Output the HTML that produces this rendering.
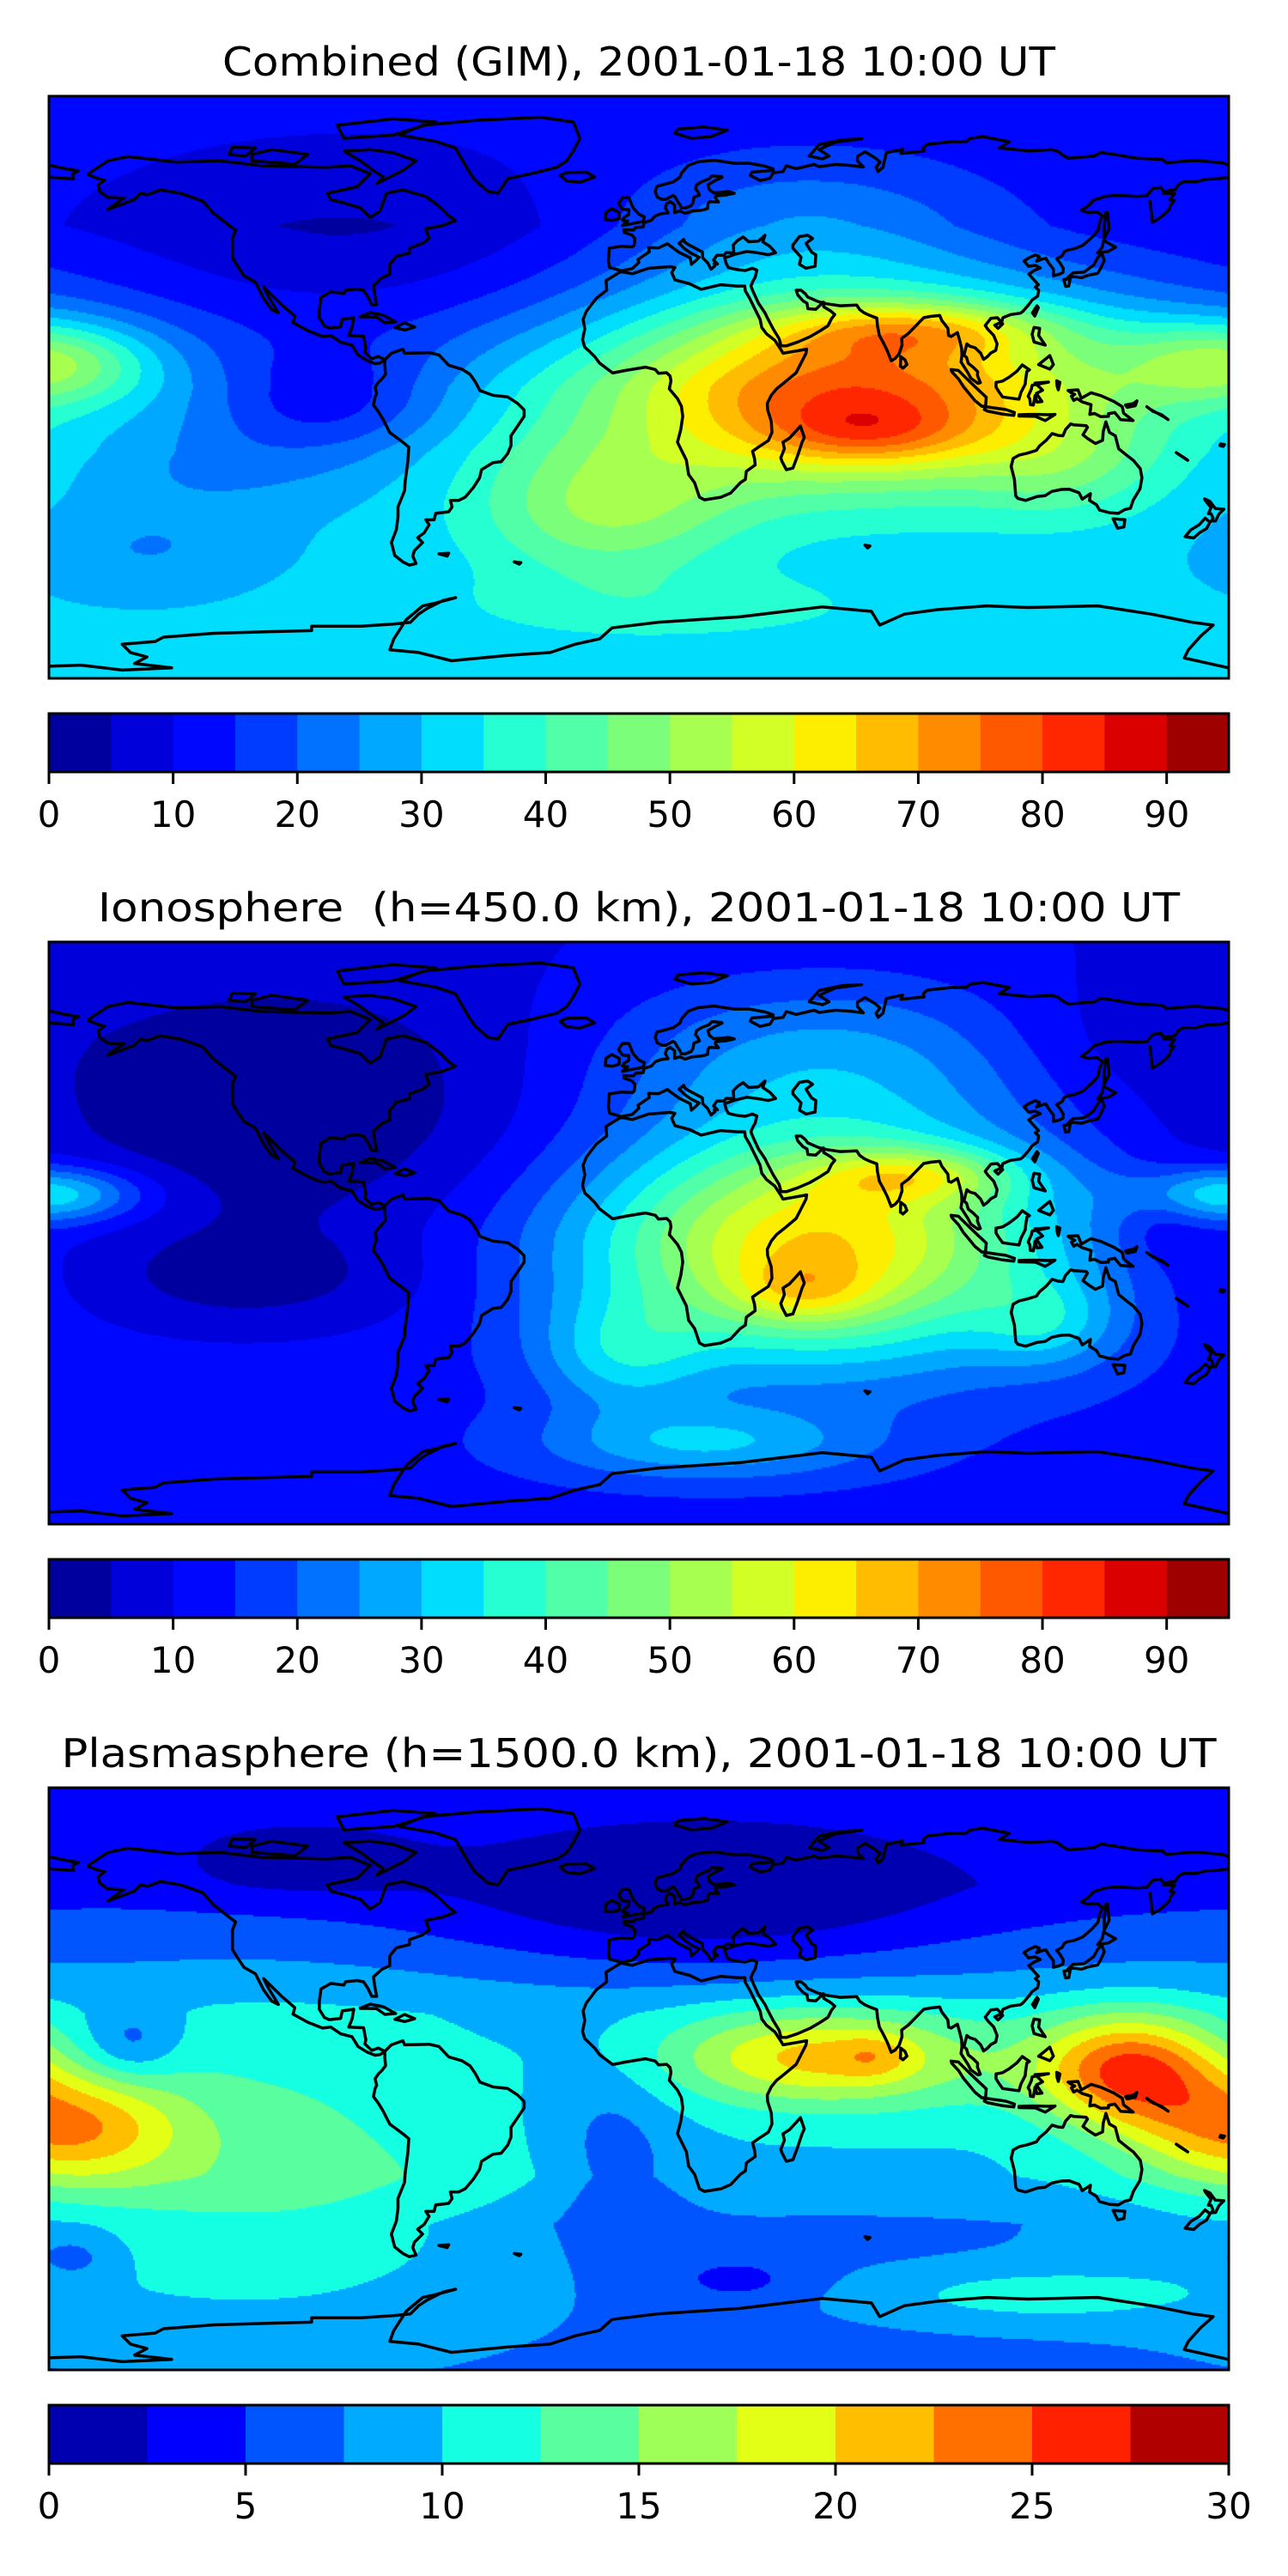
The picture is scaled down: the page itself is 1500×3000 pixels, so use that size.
<!DOCTYPE html>
<html><head><meta charset="utf-8">
<style>
html,body{margin:0;padding:0;background:#fff;}
#root{position:relative;width:1500px;height:3000px;overflow:hidden;background:#fff;}
canvas{position:absolute;left:57px;}
svg{position:absolute;left:0;top:0;}
</style></head>
<body>
<div id="root">
<canvas id="c0" width="1374" height="678" style="top:112px"></canvas>
<canvas id="c1" width="1374" height="678" style="top:1097px"></canvas>
<canvas id="c2" width="1374" height="678" style="top:2082px"></canvas>
<svg id="ov" width="1500" height="3000" xmlns="http://www.w3.org/2000/svg">
<text x="744" y="88" font-family="DejaVu Sans, Liberation Sans, sans-serif" font-size="46" text-anchor="middle" textLength="970" lengthAdjust="spacingAndGlyphs">Combined (GIM), 2001-01-18 10:00 UT</text>
<text x="744" y="1073" font-family="DejaVu Sans, Liberation Sans, sans-serif" font-size="46" text-anchor="middle" textLength="1260" lengthAdjust="spacingAndGlyphs" xml:space="preserve">Ionosphere  (h=450.0 km), 2001-01-18 10:00 UT</text>
<text x="744" y="2058" font-family="DejaVu Sans, Liberation Sans, sans-serif" font-size="46" text-anchor="middle" textLength="1345" lengthAdjust="spacingAndGlyphs">Plasmasphere (h=1500.0 km), 2001-01-18 10:00 UT</text>
</svg>
</div>
<script>
// ---- colorbar data ----
var levels1 = [0,5,10,15,20,25,30,35,40,45,50,55,60,65,70,75,80,85,90,95];
var ticks1 = [0,10,20,30,40,50,60,70,80,90];
var levels3 = [0,2.5,5,7.5,10,12.5,15,17.5,20,22.5,25,27.5,30];
var ticks3 = [0,5,10,15,20,25,30];

// ---- field blobs (lon, lat, amplitude, lon-width, lat-width) ----
var gimLon = [65,70,85,-90,-180,-10,10,-130,130,50,-150,-95];
var gimLat = [0,-14,18,35,8,-38,-68,-25,-25,50,-50,-5];
var gimAmp = [50,14,18,-9,24,18,6,-6,8,12,-6,-14];
var gimSx  = [55,22,30,55,22,28,50,30,20,40,25,25];
var gimSy  = [20,7,6,25,9,15,8,10,12,15,10,12];

var ionLon = [55,50,85,55,-110,-180,-5,20,160,125,140,-120];
var ionLat = [-3,-18,18,55,35,12,-38,-65,5,-28,60,-15];
var ionAmp = [52,12,20,15,-11,24,14,16,-6,12,-3,-8];
var ionSx  = [50,15,22,50,60,20,18,35,10,15,25,40];
var ionSy  = [25,7,6,18,30,6,12,8,10,10,15,12];

var plsLon = [-175,150,50,20,-105,-10,30,-155,120,-120,-172,75,-110,72,-5];
var plsLat = [-15,3,7,55,68,-10,-62,11,-67,-50,-55,5,-10,7,-32];
var plsAmp = [12,15,8,-5,-3,-1.5,-3,-4,4,4,-3,4,2.5,3,-2.5];
var plsSx  = [25,20,30,55,25,12,14,10,35,60,10,40,40,8,15];
var plsSy  = [12,12,10,16,8,15,5,8,6,22,6,12,25,5,18];

function baseGim(lat){ return lat>=0 ? 28-16*Math.min(lat,50)/50 : 28+3*Math.min(-lat,20)/20; }
function baseIon(lat){ return lat>=0 ? 13-3*Math.min(lat,60)/60 : 13; }
function basePls(lat){
  if(lat>20) return 9.5-5.5*Math.min((lat-20)/40,1);
  if(lat<-30) return 9.5-2.5*Math.min((-lat-30)/15,1);
  return 9.5;
}

// ---- layout ----
var MX=57, MW=1374, MH=678, MAPTOP=[112,1097,2082], CBTOP=[831,1816,2801], CBH=68;
function px(lon){ return MX+(lon+180)/360*MW; }
function py(lat,k){ return MAPTOP[k]+(90-lat)/180*MH; }

function seg(x,xs,ys){
  for(var i=0;i<xs.length-1;i++){ if(x<=xs[i+1]){ var t=(x-xs[i])/(xs[i+1]-xs[i]); return ys[i]+t*(ys[i+1]-ys[i]); } }
  return ys[ys.length-1];
}
function jet(t){
  var r=seg(t,[0,0.35,0.66,0.89,1],[0,0,1,1,0.5]);
  var g=seg(t,[0,0.125,0.375,0.64,0.91,1],[0,0,1,1,0,0]);
  var b=seg(t,[0,0.11,0.34,0.65,1],[0.5,1,1,0,0]);
  return [Math.round(r*255),Math.round(g*255),Math.round(b*255)];
}
function bandColors(levels){
  var n=levels.length-1, out=[];
  for(var i=0;i<n;i++) out.push(jet((i+0.5)/n));
  return out;
}

function evalField(lon,lat,base,L,A,M,SX,SY){
  var v=base(lat);
  for(var i=0;i<L.length;i++){
    var d=lon-L[i]; d=((d+540)%360)-180;
    var e=d/SX[i], f=(lat-A[i])/SY[i];
    v+=M[i]*Math.exp(-0.5*(e*e+f*f));
  }
  return v;
}

function drawField(id,levels,base,L,A,M,SX,SY){
  var cv=document.getElementById(id), ctx=cv.getContext('2d');
  var img=ctx.createImageData(MW,MH), d=img.data, cols=bandColors(levels), n=cols.length;
  var step=(levels[levels.length-1]-levels[0])/n, S=2;
  for(var y=0;y<MH;y+=S){
    var lat=90-(y+S/2)/MH*180;
    for(var x=0;x<MW;x+=S){
      var lon=-180+(x+S/2)/MW*360;
      var v=evalField(lon,lat,base,L,A,M,SX,SY);
      var k=Math.floor((v-levels[0])/step); if(k<0)k=0; if(k>n-1)k=n-1;
      var c=cols[k];
      for(var yy=y;yy<Math.min(y+S,MH);yy++) for(var xx=x;xx<Math.min(x+S,MW);xx++){
        var p=(yy*MW+xx)*4; d[p]=c[0];d[p+1]=c[1];d[p+2]=c[2];d[p+3]=255;
      }
    }
  }
  ctx.putImageData(img,0,0);
}
drawField('c0',levels1,baseGim,gimLon,gimLat,gimAmp,gimSx,gimSy);
drawField('c1',levels1,baseIon,ionLon,ionLat,ionAmp,ionSx,ionSy);
drawField('c2',levels3,basePls,plsLon,plsLat,plsAmp,plsSx,plsSy);

// ---- coastlines (lon,lat pairs) ----
var coasts = {
 'north-america':[-168,66,-162,70,-156,71.3,-141,69.6,-128,70,-115,68.5,-95,68,-88,68.5,-82,66,-86,62,-95,60,-94,58,-90,57,-85,55.5,-82,52.5,-79,54.5,-77,60,-72,61,-65,59,-61,56,-58,53,-56,51.5,-60,50,-65,49,-64,46,-66,44.5,-70,43,-70,41.5,-74,40.5,-76,38,-76,35,-78.5,33.8,-81,31.5,-80.5,28,-80,25.5,-81.5,25.5,-82.7,28,-84,30,-86,30.4,-89.5,30,-90,29,-94,29.5,-97,27.8,-97.5,24,-97.5,21.5,-96,19,-94.5,18.3,-91,18.7,-90.5,21,-87,21.5,-87.5,18.5,-88.5,16,-84,15.8,-83.3,12,-83.6,10.8,-81.5,8.8,-79.5,9.5,-77.5,8.5,-79,7.5,-80.5,7.3,-83,8.3,-85.7,10,-87.5,13,-91,13.9,-94,16,-96.5,15.7,-101,17.5,-105.5,20,-105,22,-109,25.5,-112.5,29,-114.5,31,-113,28,-110,23,-112,24,-114.5,27.5,-117,32.5,-120.5,34.5,-122.5,37.5,-124,40,-124,46,-123,48.5,-125,50,-130,54,-133,57.5,-137,59,-140,60,-146,61,-150,59.5,-152,60,-154,58,-158,56.5,-162,55,-158,58,-157,58.5,-162,58.7,-164.5,60.5,-165,62.5,-163,64,-165,64.5,-168,65.7],
 'baffin-island':[-80,63,-72,67,-68,70,-75,72.5,-82,73.5,-90,73,-85,70,-81,67,-78,65,-80,63],
 'victoria-island':[-118,70,-105,69,-101,72,-112,73.5,-118,72,-118,70],
 'ellesmere-island':[-90,77,-75,78,-62,82,-75,83,-92,81,-90,77],
 'banks-island':[-125,72,-120,71.5,-117,74,-124,74.2,-125,72],
 'greenland':[-73,78,-66,81,-50,82.5,-30,83.5,-20,82,-18,77,-20,73,-22,70,-25,68,-33,66,-40,64.5,-43,60,-46,60.5,-50,64,-52,67,-54,70.5,-56,74,-62,76,-73,78],
 'iceland':[-24,65.5,-22,66.4,-16,66.5,-13.5,65,-18,63.4,-22,63.8,-24,65.5],
 'cuba':[-85,21.8,-82,23.1,-78,22.3,-74.2,20.2,-77.5,19.9,-80,21.7,-85,21.8],
 'hispaniola':[-74.4,18.4,-71.5,19.9,-68.4,18.6,-71.4,17.7,-74.4,18.4],
 'south-america':[-77.5,8.5,-75.5,10.5,-72,11.8,-71.5,10.5,-68,10.6,-64,10.7,-61,10,-58,6.8,-54,5.6,-51.5,4,-50,1.8,-48.5,-1,-44.5,-2.5,-40,-3,-37,-5,-35,-7,-35,-9,-37,-12,-39,-15,-39,-18,-40,-20.5,-42,-23,-44.5,-23.3,-48,-25.5,-48.6,-28,-50.5,-31,-53,-34,-55,-35,-57.5,-35,-57,-37,-58,-38.5,-62,-39,-62.5,-41,-65,-41,-64,-42.5,-65.5,-45,-67.5,-46.5,-66,-48,-68.5,-50.5,-69,-52.2,-68,-54.5,-70,-55,-72,-54,-74.5,-52,-75.5,-48,-74,-44,-73.5,-40,-73.5,-37,-71.5,-32,-71.3,-29,-70.5,-23,-70.2,-18.5,-72,-17,-76,-14,-78,-10,-79.5,-7.5,-81,-5.5,-80.5,-3,-80,-2,-80.5,0,-79.5,1.5,-78.5,2.5,-77.3,4,-77.5,6.5,-77.5,8.5],
 'falklands':[-61,-51.5,-58,-51.3,-58.5,-52.2,-61,-51.5],
 'africa':[-5.5,35.8,-10,33,-9.8,30,-13,27.5,-16,23.5,-17,21,-16.5,18,-17.2,14.7,-16.5,12.4,-15,11,-13.5,9.5,-12,7.5,-8,4.4,-4,5.2,2,6.2,5,5.5,6,4.3,8.5,4.5,9.5,3.5,9.8,2,9.3,-0.5,11.8,-3.5,13,-5.9,13.4,-9,12.8,-13,11.8,-17,14.5,-22.5,15.2,-27,17,-29.5,18.5,-34,20,-34.8,25,-34,28,-32.7,31,-29.5,32.5,-28.5,32.8,-26,35.5,-24,35.3,-22,34.7,-19.8,36.5,-18.5,39.5,-16.5,40.6,-14,40.4,-10.5,39.3,-7,39.2,-5,40.4,-2.5,42,-0.5,44.5,1.5,48,4.5,51,10.5,51.2,11.8,48,11.2,44,10.5,43.3,11.7,41.5,14.5,39,16.5,37.5,18.5,37,21,35.5,24,33.8,27.5,32.5,29.8,32.3,31.3,30,31.3,25,31.7,20,30.5,19,30.3,15.5,32,11,33.2,10,35.5,11,37,9.5,37.3,3,36.8,-2,35.1,-5.5,35.8],
 'madagascar':[49.3,-12,50.5,-15.5,49.8,-17,48.5,-21,47,-25,45,-25.5,43.7,-23,43.3,-21.8,44.4,-19,44,-17,46,-15.7,48,-13.5,49.3,-12],
 'eurasia-south':[-9,43,-9.3,39,-8.9,37,-6,36.2,-5.4,36,-2,36.7,0,38.6,-0.3,39.5,3.2,41.9,3,43.2,6,43.1,8.7,44.4,10.5,43,12.3,41.7,15.7,40,16,38,17.2,39,18.4,40.2,16,41.4,14,42.8,12.3,44.5,13.7,45.7,14,44.9,15.3,44,17,43.1,19.4,41.8,19.5,40,21,38.5,22,36.5,23.2,37.5,23,38.2,24,38.1,22.8,39.3,23.8,40.8,26,40.8,26.6,41.6,28,41.6,29,41.2,28.8,44,30,45.3,31.8,46.5,33.5,45,36.5,45.2,38.5,47,37.8,45,40,43.5,41.7,41.6,39.5,41,36,41.6,33,42,29.3,41.1,26.2,40,26.6,38.4,27.3,37,28.5,36.7,30.5,36.3,32.5,36.1,34.6,36.8,36,36.2,35.5,34,34.8,32.8,34.2,31.3,34.9,29.5,36.5,26,38.5,23,39.2,21.5,41,18,42.8,15,43.4,12.8,45,12.8,48.5,14,52.2,15.6,55.4,17.5,57.7,19,58.8,21.2,59.8,22.5,58.5,23.6,56.4,24.9,56.3,26.3,54,24.1,51.6,24.3,51.3,26,50.1,26.7,48.5,28.5,48,30,49.5,30,50.8,28.9,51.5,27.9,54.7,26.5,57.3,25.8,61.5,25.2,66.5,25.4,67.4,24,68.8,23,70,22.4,72.6,21.4,72.8,19,73.4,16,74.5,14,75.8,11.3,77,8.2,78.2,8.9,79.4,10.3,80.3,13,80.2,15.1,82.2,16.6,84.7,19.2,86.9,21.5,89,21.9,91.8,22.2,92.4,20.7,94.3,18.2,94.5,16,95.3,15.7,97.2,16.9,97.8,14.8,98.5,12,98.6,9.9,98.3,7.8,100.4,4.5,101.3,2.8,103.5,1.2,104.2,1.4,103.3,3.7,103.4,4.8,102,6.2,100.5,7.4,100,9.2,99.2,9.9,100.1,13.4,101,12.7,102.6,12.2,104.3,10.5,105.2,8.6,106.4,9.5,107.4,10.6,108.9,11.4,109.3,13.4,108.3,16,106.5,17.9,105.7,19.1,107.4,21.3,109.4,21.5,110.7,20.1,111.1,21.5,113.5,22.5,116.5,22.9,117.3,23.6,119,25.6,120,27,121.7,28.2,122,30,121,31,121.9,31.7,120.4,33.4,119,35,120.6,36.1,122.5,36.9,121,37.7,118.9,37.4,118,38.5,117.5,39,119,40,121,40.9,122.2,40.4,121.4,39,123,39.6,124.2,39.9,125,38.5,126.5,36.5,126.5,34.5,128.2,34.9,129.4,35.5,129.5,36.8,128.4,38.6,127.5,39.7,129.2,40.7,129.8,41.9,130.8,42.4,132.9,42.8,135.5,43.9,138.2,46.3,140.1,48.4,140.6,51,141.4,53,139.9,54.2,137,54,135.1,54.7,137,56,138.9,57.9,142.2,59,145.5,59.3,148.5,59.2,152,59,155,59.2,156.8,61.4,159.3,61.8,160.1,60.5,163.7,61.1,164.5,62.5,166,63.5,170,63.5,173,64.3,177,64.5,180,65],
 'kamchatka':[156,57.5,156.7,51,158.3,51.9,160,53.2,161.9,55,162.1,56.1,163.3,57.7,162,58,163.5,59.9,160,60],
 'chukotka-west':[-180,65,-172.5,64.4,-172.8,66,-171,66.9,-175,67.6,-180,68.7],
 'eurasia-north':[180,68.7,178,69.4,170.5,70.1,168,70,161,69.4,159.8,70.4,152,70.8,145,72,141,72.6,139,71.5,131,70.8,129,72,128,72.9,126,73.5,119,73.1,113,73.7,110,74,113,75.9,105,77.5,101,76.9,100,76,97,75.9,96,76,88,75.1,86.8,74,87,73,80,72.3,80.5,73.6,75.5,72.5,74.5,68,73,66.7,72.4,68,73.6,69.6,72,71,69,72.8,66.7,71.4,66.7,70,68.5,68.1,64.5,68.6,60,68.9,55,68.2,53.5,68.9,48,67.6,45,68.5,44,66.7,41,66.3,40,64.6,37,63.9,34,65.5,34.5,66.5,41,67.1,41,67.5,38.4,68.4,33.5,69.3,29.4,69.2,23,70.2,18,69.7,15.1,68.6,13,66.2,12.6,65,10.5,63.5,5.5,62.1,5,60.5,5.6,58.8,7,58.1,8.3,58.1,10.4,59.3,11,58.9,11.8,57.5,12.6,56.3,12.9,55.4,14.1,55.4,15.9,56.1,16.5,57,16.8,58.7,18.5,59.4,17.9,60.6,17.3,61.3,17.6,62.6,19.3,63.6,21.4,64.4,22.3,65.4,25.3,65.1,25.4,64.9,23.5,64,21.1,62.6,21.5,61.1,22.8,60.1,25.7,60.3,27.2,60.5,29.1,60,26.3,59.4,23.5,59.2,23.3,58.6,24.3,57.3,21.6,57.4,21.1,56.8,21,55.3,19.9,54.9,18.6,54.7,16.4,54.5,14.1,53.8,12.5,54.5,10.9,54,10.9,56.4,9.6,57.4,8.5,56.8,8.1,55.5,8.9,53.9,7,53.7,5,53,3.8,51.6,1.6,50.9,1.3,49.6,-1,49.4,-1.6,48.6,-4.6,48.7,-4.5,47.9,-2.2,47.1,-1.2,46,-1.4,44,-1.9,43.4,-5.4,43.6,-9,43],
 'novaya-zemlya':[52,71.5,56,70.6,58,71.5,55,73.5,60,75.8,68,76.8,62,76.5,55,75,52,71.5],
 'svalbard':[11,78.5,16,77,22,77.5,27,79.5,20,80.5,12,79.8,11,78.5],
 'caspian-sea':[47,44,49,46.6,51.5,47,53,46,51,44.5,52.7,41.8,54,41,53.8,37.4,51,36.8,49,38,49.5,40.2,47,43,47,44],
 'great-britain':[-5,50,1.4,51.3,1.7,52.7,0,53.5,-1.6,55.3,-2,56,-3,58.6,-5,58.6,-6.2,56.8,-5,55,-3,54.9,-3.1,53.4,-4.5,52.5,-5,51.6,-3.4,51.4,-5,50],
 'ireland':[-6,52.2,-6,54,-8.3,55.2,-10,54,-10.3,51.8,-8,51.6,-6,52.2],
 'honshu':[130.9,33.9,132.5,35.4,135.8,35.6,138.8,37.8,140,40,141.3,41.4,142,39.2,140.9,36.8,140,35.2,137,34.6,135.1,33.9,132.8,34.2,130.9,33.9],
 'hokkaido':[140,41.5,141.4,43.3,141.8,45.4,145.5,43.3,143.2,42,140,41.5],
 'sakhalin':[142,46,143.5,49,143,54,142.5,54,142,50,142,46],
 'kyushu':[129.7,33.3,131.6,33.6,131.2,31.3,130.2,31.2,129.7,33.3],
 'taiwan':[120.1,23,121.5,25.2,121.9,24.6,120.8,22,120.1,23],
 'sri-lanka':[79.8,6.5,79.9,9.5,81.2,8.5,81.8,7,80.6,5.9,79.8,6.5],
 'hainan':[108.6,19.2,110.5,20.1,111,19.6,109.6,18.2,108.6,19.2],
 'luzon':[120.6,18.5,122.3,18.2,122,16,124,13,120.6,14,120,16.4,120.6,18.5],
 'mindanao':[122,7,125.4,9.8,126.5,7,125.4,5.6,122,7],
 'borneo':[109,1.5,111,1.9,113,3.1,115.4,5,117,6.9,119.2,5.4,118.4,4.9,118,2.3,117.9,1,116.6,-1.6,116,-3.7,114.5,-3.5,111,-3,110,-1.6,109,0,109,1.5],
 'sumatra':[95.3,5.5,97.5,5.2,100.6,2.1,103.8,-1,106,-3.1,105.8,-5.8,104.7,-5.9,102.6,-4.2,100.9,-2.1,99,0.2,97.6,2.5,95.5,4.8,95.3,5.5],
 'java':[105.8,-6,108.5,-6.4,112,-6.9,114.6,-7.8,114.4,-8.7,111,-8.3,106.5,-7.4,105.4,-6.9,105.8,-6],
 'lesser-sunda':[116,-8.5,119,-8.4,122,-8.4,125,-8.5,127,-8.4,124,-10.3,121,-9,116,-8.9,116,-8.5],
 'sulawesi':[119.5,-5.4,120.4,-5.5,120.9,-2.6,121.5,-4.6,123,-4.4,121.3,-1.9,123.2,-0.9,120.9,1.3,125,1.6,120,0.6,119.8,-0.5,118.8,-2.8,119.3,-3.6,119.5,-5.4],
 'halmahera':[127.5,2,128.5,1.5,128,-0.8,127.6,0.5,127.5,2],
 'new-guinea':[131,-1,134,-0.8,135,-3.4,138,-1.7,141,-2.6,145,-4.4,147.5,-6,147.9,-8,150.8,-10.3,147,-10,145.2,-7.8,143.3,-8.2,143.3,-9,141,-9.1,139,-8.1,137.6,-8.4,138,-5.4,135.2,-4.5,133.7,-3.5,132.7,-4.1,132,-2.8,133,-2.2,131.8,-1.6,131,-1],
 'new-britain':[148.5,-5.5,151,-5,152,-4.2,151.5,-5.7,149,-6.2,148.5,-5.5],
 'solomons':[155,-6,157,-7.5,159.5,-8.5,161.5,-10,160,-9,156,-6.8,155,-6],
 'new-caledonia':[164,-20.2,167,-22.2,167.5,-22.6,164.5,-20.6,164,-20.2],
 'fiji':[177.5,-17.5,178.7,-17.7,178.3,-18.3,177.3,-18,177.5,-17.5],
 'australia':[114.2,-22,113.6,-24.5,114.6,-28.5,115,-33.6,115.7,-34.4,118,-35,121.5,-33.8,124,-33.5,126,-32.2,129,-31.6,131.3,-31.5,134.3,-32.6,135.3,-34.6,137.8,-32.9,137.5,-35,139.6,-36.3,140.6,-38,143.6,-38.8,146.3,-39,148.3,-37.8,150,-37.4,150.9,-34.8,152.9,-31.4,153.5,-28,153,-25.2,150.9,-22.6,149.2,-21.3,146.4,-19,145.4,-15,143.6,-14,142.5,-10.7,141.7,-13.7,141.5,-16.4,139.3,-17.4,137,-15.9,135.5,-14.7,136.9,-12.4,136.5,-11.9,132.6,-11.6,131.8,-11.3,130.2,-13.1,129.4,-15,128,-14.9,126.1,-14.3,124.4,-16.3,122.2,-18.2,121.3,-19.5,118.5,-20.4,116,-21,114.2,-22],
 'tasmania':[144.7,-40.7,148.3,-40.9,148,-43.2,146.1,-43.6,144.7,-40.7],
 'new-zealand-north':[172.6,-34.5,174.3,-35.3,175.9,-37.5,178.5,-37.7,177,-39.2,176,-41.3,174.7,-41.4,175.2,-40.5,174.6,-39.1,173.8,-39.1,174.6,-37.2,173,-35.2,172.6,-34.5],
 'new-zealand-south':[172.8,-40.5,174.3,-41.7,173.2,-43.7,171.2,-44.9,169.3,-46.6,166.7,-46.2,168.4,-44.1,171,-42.5,172.8,-40.5],
 'kerguelen':[69,-48.8,70.5,-49.1,69.8,-49.7,69,-48.8],
 'south-georgia':[-38,-54,-36,-54.2,-36.5,-54.7,-38,-54]
};
// Antarctica traced in reference-zoom pixel space, mapped to map fractions
var antarcticaZoom=[61,1215,100,1213,150,1222,210,1218,165,1210,180,1198,160,1190,150,1175,190,1170,200,1162,260,1155,330,1152,380,1150,380,1142,440,1142,480,1138,500,1135,510,1120,520,1110,540,1095,555,1090,530,1100,515,1105,495,1130,480,1165,475,1185,510,1190,550,1205,620,1195,670,1190,700,1175,730,1165,745,1145,800,1135,900,1125,1000,1107,1060,1115,1070,1140,1100,1120,1140,1112,1200,1105,1250,1108,1335,1105,1400,1120,1450,1135,1475,1140,1460,1160,1445,1185,1440,1200,1494,1218];

var NS='http://www.w3.org/2000/svg';
var svg=document.getElementById('ov');
function mk(tag,attrs){ var e=document.createElementNS(NS,tag); for(var k in attrs) e.setAttribute(k,attrs[k]); svg.appendChild(e); return e; }

for(var p=0;p<3;p++){
  var clipId='clip'+p;
  var defs=mk('defs',{});
  var cp=document.createElementNS(NS,'clipPath'); cp.setAttribute('id',clipId);
  var cr=document.createElementNS(NS,'rect'); cr.setAttribute('x',MX); cr.setAttribute('y',MAPTOP[p]); cr.setAttribute('width',MW); cr.setAttribute('height',MH);
  cp.appendChild(cr); defs.appendChild(cp);
  var g=mk('g',{'clip-path':'url(#'+clipId+')',fill:'none',stroke:'#000','stroke-width':'3.5','stroke-linejoin':'round','stroke-linecap':'round'});
  
  
  for(var name in coasts){
    var a=coasts[name], s='';
    for(var i=0;i<a.length;i+=2) s+=(i?'L':'M')+px(a[i]).toFixed(1)+' '+py(a[i+1],p).toFixed(1);
    var pe=document.createElementNS(NS,'path'); pe.setAttribute('d',s);
    
    
    g.appendChild(pe);
  }
  var s2='';
  for(var i=0;i<antarcticaZoom.length;i+=2){
    var fx=(antarcticaZoom[i]-61)/1433, fy=(antarcticaZoom[i+1]-177)/1060;
    s2+=(i?'L':'M')+(MX+fx*MW).toFixed(1)+' '+(MAPTOP[p]+fy*MH).toFixed(1);
  }
  var pa=document.createElementNS(NS,'path'); pa.setAttribute('d',s2);
  
  
  g.appendChild(pa);
  var fr=mk('rect',{x:MX,y:MAPTOP[p],width:MW,height:MH,fill:'none',stroke:'#000','stroke-width':'3'});
  
  

  // colorbar
  var levels=(p<2)?levels1:levels3, ticks=(p<2)?ticks1:ticks3, cols=bandColors(levels);
  var vmin=levels[0], vmax=levels[levels.length-1];
  function cx(v){ return MX+(v-vmin)/(vmax-vmin)*MW; }
  for(var i=0;i<cols.length;i++){
    var r=mk('rect',{x:cx(levels[i]).toFixed(2),y:CBTOP[p],width:(cx(levels[i+1])-cx(levels[i])+0.6).toFixed(2),height:CBH,fill:'rgb('+cols[i].join(',')+')'});
    
    
  }
  var cf=mk('rect',{x:MX,y:CBTOP[p],width:MW,height:CBH,fill:'none',stroke:'#000','stroke-width':'3'});
  
  
  for(var i=0;i<ticks.length;i++){
    var x=cx(ticks[i]);
    var tl=mk('line',{x1:x,x2:x,y1:CBTOP[p]+CBH,y2:CBTOP[p]+CBH+14,stroke:'#000','stroke-width':'3'});
    
    
    var tx=mk('text',{x:x,y:963+985*p,'font-family':'DejaVu Sans, Liberation Sans, sans-serif','font-size':'42','text-anchor':'middle'});
    tx.textContent=String(ticks[i]);
    
    
  }
}
</script>
</body></html>
